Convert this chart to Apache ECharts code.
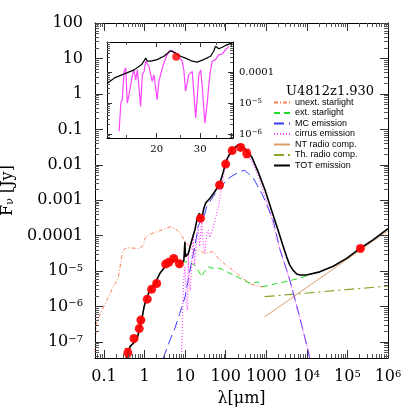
<!DOCTYPE html>
<html>
<head>
<meta charset="utf-8">
<script src="https://cdn.jsdelivr.net/npm/echarts@6/dist/echarts.min.js"></script>
<style>
html,body{margin:0;padding:0;background:#fff}
#chart{width:409px;height:409px}
</style>
</head>
<body>
<div id="chart"></div>
<script>
// every value below is log10: wavelength in micron, flux density in Jy

// photometry (red dots) + error in dex
var photLogLam = [-0.41, -0.26, -0.13, -0.09, 0.067, 0.175, 0.30, 0.52, 0.60, 0.72, 0.86, 1.38, 1.85, 2.00, 2.16, 2.37, 2.52, 5.32];
var photLogF   = [-7.30, -6.90, -6.62, -6.38, -5.79, -5.51, -5.35, -4.80, -4.75, -4.64, -4.79, -3.51, -2.57, -1.98, -1.60, -1.51, -1.68, -4.36];
var photErr    = [0.12, 0.06, 0.05, 0.05, 0.05, 0.05, 0.05, 0.05, 0.05, 0.05, 0.05, 0.05, 0.05, 0.05, 0.06, 0.08, 0.12, 0.05];

// unextinguished starlight
var unextLogLam = [-1.22, -1.19, -1.10, -0.93, -0.77, -0.65, -0.56, -0.52, -0.44, -0.11, -0.03, 0.01, 0.09, 0.30, 0.63, 0.75, 0.87, 1.04, 1.20, 1.36, 1.49, 1.69, 1.86, 2.10, 2.35, 2.60, 2.79, 2.92];
var unextLogF   = [-7.30, -6.50, -6.24, -5.82, -5.44, -5.20, -4.59, -4.41, -4.34, -4.36, -4.26, -4.08, -3.98, -3.89, -3.75, -3.79, -3.93, -4.22, -4.41, -4.41, -4.50, -4.45, -4.69, -4.91, -5.14, -5.35, -5.42, -5.45];

// extinguished starlight
var extLogLam = [-0.44, -0.36, -0.28, -0.19, -0.13, -0.07, -0.01, 0.05, 0.13, 0.26, 0.38, 0.50, 0.63, 0.75, 0.83, 0.91, 0.95, 1.08, 1.24, 1.32, 1.41, 1.45, 1.57, 1.69, 1.86, 2.10, 2.35, 2.60, 2.80, 2.92, 3.25, 3.58, 3.99];
var extLogF   = [-7.45, -7.13, -7.04, -6.94, -6.66, -6.38, -6.00, -5.77, -5.53, -5.34, -5.06, -4.88, -4.74, -4.67, -4.70, -4.74, -4.69, -4.74, -4.83, -4.97, -5.16, -5.06, -4.88, -4.92, -4.92, -5.06, -5.20, -5.35, -5.30, -5.44, -5.35, -5.27, -5.14];

// molecular cloud emission
var mcLogLam = [0.46, 0.63, 0.75, 0.87, 1.00, 1.12, 1.24, 1.32, 1.36, 1.45, 1.53, 1.69, 1.86, 2.02, 2.18, 2.39, 2.47, 2.68, 2.92, 3.17, 3.33, 3.58, 3.83, 4.03, 4.07];
var mcLogF   = [-7.46, -6.94, -6.61, -6.19, -5.72, -4.97, -4.31, -3.75, -3.63, -3.55, -3.18, -2.90, -2.66, -2.43, -2.30, -2.17, -2.16, -2.37, -2.88, -3.56, -4.36, -5.25, -6.33, -7.23, -7.45];

// cirrus emission
var cirLogLam = [0.91, 0.93, 0.95, 0.98, 1.00, 1.03, 1.06, 1.08, 1.10, 1.13, 1.17, 1.20, 1.23, 1.27, 1.32, 1.36, 1.41, 1.45, 1.49, 1.53, 1.57, 1.61, 1.65, 1.73, 1.82, 1.90, 1.98, 2.05, 2.10, 2.18, 2.31, 2.47, 2.64, 2.80, 2.97, 3.13, 3.33, 3.58, 3.83, 4.03, 4.07];
var cirLogF   = [-7.45, -6.60, -5.63, -5.00, -4.88, -5.90, -6.10, -4.45, -5.30, -5.55, -4.60, -3.95, -4.85, -4.30, -3.75, -4.30, -3.62, -4.25, -4.50, -3.95, -3.84, -4.05, -4.00, -3.61, -3.20, -2.62, -2.10, -1.85, -1.72, -1.55, -1.49, -1.58, -1.90, -2.30, -2.90, -3.50, -4.36, -5.25, -6.33, -7.23, -7.45];

// radio components
var ntLogLam = [2.96, 6.00];
var ntLogF   = [-6.29, -3.86];
var thLogLam = [2.96, 6.00];
var thLogF   = [-5.72, -5.42];

// total emission
var totLogLam = [-0.44, -0.36, -0.28, -0.19, -0.13, -0.07, -0.01, 0.05, 0.13, 0.26, 0.38, 0.50, 0.63, 0.75, 0.83, 0.91, 0.97, 0.995, 1.01, 1.08, 1.16, 1.24, 1.30, 1.35, 1.38, 1.43, 1.46, 1.51, 1.61, 1.73, 1.86, 1.94, 2.02, 2.15, 2.31, 2.47, 2.64, 2.80, 2.97, 3.13, 3.29, 3.42, 3.50, 3.58, 3.66, 3.75, 3.83, 3.99, 4.32, 4.65, 4.98, 5.31, 5.63, 6.00];
var totLogF   = [-7.45, -7.13, -7.04, -6.94, -6.66, -6.38, -6.00, -5.77, -5.53, -5.34, -5.06, -4.88, -4.74, -4.67, -4.71, -4.78, -4.69, -4.17, -4.59, -4.50, -4.15, -3.84, -3.51, -3.37, -3.56, -3.42, -3.23, -3.07, -2.95, -2.76, -2.52, -2.20, -1.87, -1.58, -1.44, -1.54, -1.77, -2.20, -2.71, -3.28, -3.84, -4.31, -4.59, -4.83, -4.97, -5.08, -5.11, -5.11, -5.02, -4.86, -4.64, -4.36, -4.12, -3.80];

// inset: model total and mid-IR spectrum
var insTotLogLam = [1.10, 1.13, 1.17, 1.21, 1.24, 1.257, 1.263, 1.277, 1.303, 1.33, 1.358, 1.378, 1.398, 1.418, 1.445, 1.465, 1.491, 1.519, 1.532, 1.539, 1.553, 1.566, 1.58, 1.606, 1.61];
var insTotLogF   = [-4.37, -4.19, -4.06, -3.93, -3.76, -3.55, -3.65, -3.65, -3.60, -3.49, -3.31, -3.39, -3.49, -3.55, -3.65, -3.68, -3.60, -3.49, -3.33, -3.17, -3.25, -3.20, -3.14, -3.06, -3.05];
var specLogLam = [1.149, 1.156, 1.162, 1.169, 1.176, 1.182, 1.189, 1.203, 1.209, 1.216, 1.223, 1.236, 1.243, 1.250, 1.257, 1.270, 1.283, 1.290, 1.303, 1.310, 1.324, 1.331, 1.337, 1.351, 1.364, 1.378, 1.391, 1.404, 1.411, 1.418, 1.431, 1.445, 1.459, 1.465, 1.472, 1.479, 1.485, 1.496, 1.505, 1.516, 1.526, 1.539, 1.553, 1.566, 1.580, 1.593];
var specLogF   = [-5.91, -5.00, -4.89, -3.98, -3.87, -5.00, -4.73, -4.09, -3.93, -4.25, -3.93, -5.11, -4.09, -3.98, -3.65, -3.82, -4.30, -4.09, -4.89, -4.30, -3.87, -3.82, -3.55, -3.33, -3.31, -3.39, -3.49, -3.65, -3.93, -4.62, -4.09, -3.98, -5.48, -5.54, -4.09, -3.93, -4.41, -5.65, -5.05, -4.09, -3.65, -3.60, -3.44, -3.42, -3.28, -3.17];

var X0 = -1.22, X1 = 6, Y0 = -7.45, Y1 = 2;
var IX0 = 1.10, IX1 = 1.61, IY0 = -6.13, IY1 = -3.03;

function zip(a, b) { return a.map(function (v, i) { return [v, b[i]]; }); }
function majors(lo, hi) { var r = []; for (var n = Math.ceil(lo); n <= hi; n++) r.push(n); return r; }
function minors(lo, hi) {
  var r = [];
  for (var n = Math.floor(lo); n <= Math.ceil(hi); n++)
    for (var k = 2; k <= 9; k++) { var v = n + Math.log10(k); if (v > lo && v < hi) r.push(v); }
  return r;
}
var SERIF = 'DejaVu Serif';
var supRich = { sup: { fontSize: 10, fontFamily: SERIF, verticalAlign: 'top', lineHeight: 10, color: '#000' } };
var xNames = { '-1': '0.1', '0': '1', '1': '10', '2': '100', '3': '1000' };
var yNames = { '2': '100', '1': '10', '0': '1', '-1': '0.1', '-2': '0.01', '-3': '0.001', '-4': '0.0001' };
function fmtX(v) { var n = Math.round(v); return xNames[n] || '10{sup|' + n + '}'; }
function fmtY(v) { var n = Math.round(v); return yNames[n] || '10{sup|\u2212' + (-n) + '}'; }

// extra axis that only draws short (minor) ticks
function tickAxis(base, vals, len) {
  return Object.assign({
    type: 'value', axisLine: { show: false, onZero: false }, splitLine: { show: false },
    axisLabel: { show: false }, axisPointer: { show: false }, z: 8,
    axisTick: { show: true, inside: true, length: len, customValues: vals, lineStyle: { color: '#555', width: 1 } }
  }, base);
}
// frame axis with long (major) ticks
function mainAxis(base, vals, len) {
  return Object.assign({
    type: 'value', splitLine: { show: false }, z: 8,
    axisLine: { show: true, onZero: false, lineStyle: { color: '#000', width: 1 } },
    axisTick: { show: true, inside: true, length: len, customValues: vals, lineStyle: { color: '#333', width: 1 } },
    axisLabel: { show: false }
  }, base);
}

var xMaj = majors(X0, X1), xMin = minors(X0, X1);
var yMaj = majors(Y0, Y1), yMin = minors(Y0, Y1);
var iyMaj = majors(IY0, IY1), iyMin = minors(IY0, IY1);
var ixMaj = [20, 30, 40].map(Math.log10), ixMin = [15, 25, 35].map(Math.log10);

var xAxes = [
  mainAxis({ gridIndex: 0, min: X0, max: X1, position: 'bottom',
    axisLabel: { show: true, customValues: xMaj, formatter: fmtX, margin: 11, fontFamily: SERIF, fontSize: 16, color: '#000', rich: supRich },
    name: '\u03bb[\u03bcm]', nameLocation: 'middle', nameGap: 33,
    nameTextStyle: { fontFamily: SERIF, fontSize: 16, color: '#000' } }, xMaj, 8),
  tickAxis({ gridIndex: 0, min: X0, max: X1, position: 'bottom' }, xMin, 4),
  mainAxis({ gridIndex: 0, min: X0, max: X1, position: 'top' }, xMaj, 8),
  tickAxis({ gridIndex: 0, min: X0, max: X1, position: 'top' }, xMin, 4),
  mainAxis({ gridIndex: 1, min: IX0, max: IX1, position: 'bottom',
    axisLabel: { show: true, customValues: [Math.log10(20), Math.log10(30)], formatter: function (v) { return String(Math.round(Math.pow(10, v))); },
      margin: 6, fontFamily: SERIF, fontSize: 10, color: '#000' } }, ixMaj, 5),
  tickAxis({ gridIndex: 1, min: IX0, max: IX1, position: 'bottom' }, ixMin, 3),
  mainAxis({ gridIndex: 1, min: IX0, max: IX1, position: 'top' }, ixMaj, 5),
  tickAxis({ gridIndex: 1, min: IX0, max: IX1, position: 'top' }, ixMin, 3)
];

var yAxes = [
  mainAxis({ gridIndex: 0, min: Y0, max: Y1, position: 'left',
    axisLabel: { show: true, customValues: yMaj, formatter: fmtY, margin: 12, fontFamily: SERIF, fontSize: 16, color: '#000', rich: supRich },
    name: 'F{sub|\u03bd} [Jy]', nameLocation: 'middle', nameGap: 66, nameRotate: 90,
    nameTextStyle: { fontFamily: SERIF, fontSize: 16, color: '#000',
      rich: { sub: { fontSize: 11, fontFamily: SERIF, verticalAlign: 'bottom', padding: [6, 0, 0, 0] } } } }, yMaj, 8),
  tickAxis({ gridIndex: 0, min: Y0, max: Y1, position: 'left' }, yMin, 4),
  mainAxis({ gridIndex: 0, min: Y0, max: Y1, position: 'right' }, yMaj, 8),
  tickAxis({ gridIndex: 0, min: Y0, max: Y1, position: 'right' }, yMin, 4),
  mainAxis({ gridIndex: 1, min: IY0, max: IY1, position: 'left' }, iyMaj, 5),
  mainAxis({ gridIndex: 1, min: IY0, max: IY1, position: 'right',
    axisLabel: { show: true, customValues: iyMaj, formatter: fmtY, margin: 6, fontFamily: SERIF, fontSize: 10, color: '#000',
      rich: { sup: { fontSize: 7, fontFamily: SERIF, verticalAlign: 'top', lineHeight: 7 } } } }, iyMaj, 5),
  tickAxis({ gridIndex: 1, min: IY0, max: IY1, position: 'left' }, iyMin, 3),
  tickAxis({ gridIndex: 1, min: IY0, max: IY1, position: 'right' }, iyMin, 3)
];

function model(name, xs, ys, color, width, type, z) {
  return { type: 'line', name: name, data: zip(xs, ys), xAxisIndex: 0, yAxisIndex: 0,
    symbol: 'none', clip: true, z: z, lineStyle: { color: color, width: width, type: type }, itemStyle: { color: color } };
}

var insPhot = zip(photLogLam, photLogF).filter(function (p) { return p[0] > IX0 && p[0] < IX1; });

var option = {
  animation: false,
  backgroundColor: '#fff',
  title: { text: 'U4812z1.930', left: 281, top: 80,
    textStyle: { fontFamily: SERIF, fontSize: 13, fontWeight: 'normal', color: '#000' } },
  legend: { orient: 'vertical', left: 273, top: 98, itemWidth: 16, itemHeight: 9, itemGap: 1.5, padding: 0,
    itemStyle: { color: 'rgba(0,0,0,0)', borderColor: 'rgba(0,0,0,0)', borderWidth: 0 },
    textStyle: { fontFamily: 'Liberation Sans', fontSize: 9, color: '#000' },
    data: ['unext. starlight', 'ext. starlight', 'MC emission', 'cirrus emission', 'NT radio comp.', 'Th. radio comp.', 'TOT emission'] },
  grid: [
    { left: 95, right: 21, top: 23, bottom: 51, outerBoundsMode: 'none', containLabel: false },
    { left: 107, top: 42, width: 126, height: 96, outerBoundsMode: 'none', containLabel: false,
      show: true, backgroundColor: '#fff', borderWidth: 0 }
  ],
  xAxis: xAxes,
  yAxis: yAxes,
  series: [
    model('unext. starlight', unextLogLam, unextLogF, '#ff7f55', 1, [4, 2, 1, 2], 2),
    model('ext. starlight', extLogLam, extLogF, '#22dd22', 1, [6, 4], 2),
    model('MC emission', mcLogLam, mcLogF, '#3b3bff', 1, [10, 5], 3),
    model('cirrus emission', cirLogLam, cirLogF, '#ff40ff', 1.2, [1, 2], 3),
    model('NT radio comp.', ntLogLam, ntLogF, '#daa06d', 1, 'solid', 2),
    model('Th. radio comp.', thLogLam, thLogF, '#86a826', 1.2, [10, 4, 2, 4], 2),
    model('TOT emission', totLogLam, totLogF, '#000', 1.6, 'solid', 4),
    {
      type: 'custom', xAxisIndex: 0, yAxisIndex: 0, z: 5,
      data: photLogLam.map(function (x, i) { return [x, photLogF[i] - photErr[i], photLogF[i] + photErr[i]]; }),
      renderItem: function (params, api) {
        var a = api.coord([api.value(0), api.value(1)]), b = api.coord([api.value(0), api.value(2)]);
        var st = { stroke: '#f00', lineWidth: 1 };
        return { type: 'group', children: [
          { type: 'line', shape: { x1: a[0], y1: a[1], x2: b[0], y2: b[1] }, style: st },
          { type: 'line', shape: { x1: a[0] - 3, y1: a[1], x2: a[0] + 3, y2: a[1] }, style: st },
          { type: 'line', shape: { x1: b[0] - 3, y1: b[1], x2: b[0] + 3, y2: b[1] }, style: st }
        ] };
      }
    },
    { type: 'scatter', xAxisIndex: 0, yAxisIndex: 0, z: 6, data: zip(photLogLam, photLogF),
      symbol: 'circle', symbolSize: 9, itemStyle: { color: '#f00', opacity: 0.9 } },
    { type: 'line', xAxisIndex: 4, yAxisIndex: 4, z: 10, data: zip(specLogLam, specLogF), symbol: 'none',
      lineStyle: { color: '#ff44ff', width: 1.2 } },
    { type: 'line', xAxisIndex: 4, yAxisIndex: 4, z: 11, data: zip(insTotLogLam, insTotLogF), symbol: 'none',
      lineStyle: { color: '#000', width: 1.2 } },
    { type: 'scatter', xAxisIndex: 4, yAxisIndex: 4, z: 12, data: insPhot, symbolSize: 8, itemStyle: { color: '#f00' } }
  ]
};

var chart = echarts.init(document.getElementById('chart'));
chart.setOption(option);
</script>
</body>
</html>
